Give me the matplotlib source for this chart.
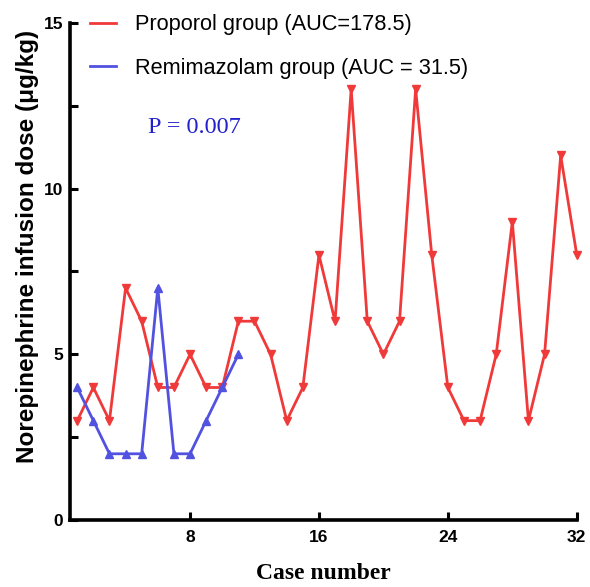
import matplotlib
matplotlib.use("Agg")
import matplotlib.pyplot as plt
from matplotlib.ticker import MultipleLocator

# values
propofol_case = list(range(1, 33))
propofol_dose = [3, 4, 3, 7, 6, 4, 4, 5, 4, 4, 6, 6, 5, 3, 4, 8,
                 6, 13, 6, 5, 6, 13, 8, 4, 3, 3, 5, 9, 3, 5, 11, 8]
remi_case = list(range(1, 12))
remi_dose = [4, 3, 2, 2, 2, 7, 2, 2, 3, 4, 5]

labels = ["Proporol group (AUC=178.5)", "Remimazolam group (AUC = 31.5)"]
x_ticks = [8, 16, 24, 32]
y_ticks = [0, 5, 10, 15]

red = "#f03a3a"
blue = "#5252e0"

fig = plt.figure(figsize=(5.9, 5.87), dpi=100)
ax = fig.add_axes([0.1186, 0.114, 0.859, 0.847])

ax.plot(propofol_case, propofol_dose, color=red, lw=2, marker="v", ms=5.5,
        label=labels[0], clip_on=False)
ax.plot(remi_case, remi_dose, color=blue, lw=2, marker="^", ms=5.5,
        label=labels[1], clip_on=False)

ax.set_xlim(0.55, 32)
ax.set_ylim(0, 15)
ax.set_xticks(x_ticks)
ax.set_yticks(y_ticks)
ax.yaxis.set_minor_locator(MultipleLocator(2.5))
ax.tick_params(which="both", direction="in", width=2.2, length=6,
               labelsize=12.5, pad=5)
ax.tick_params(axis="x", pad=7)
for lab in ax.get_xticklabels() + ax.get_yticklabels():
    lab.set_fontfamily("Liberation Sans")
    lab.set_fontweight("bold")

for s in ["top", "right"]:
    ax.spines[s].set_visible(False)
for s in ["left", "bottom"]:
    ax.spines[s].set_linewidth(2.6)

ax.set_ylabel("Norepinephrine infusion dose (μg/kg)", fontsize=17.5,
              fontweight="bold", family="Liberation Sans")
ax.yaxis.set_label_coords(-0.062, 0.551)
ax.set_xlabel("Case number", fontsize=17, fontweight="bold",
              family="Liberation Serif", labelpad=13)

leg = ax.legend(loc="upper left", bbox_to_anchor=(0.0, 1.057), frameon=False,
                handlelength=1.2, handletextpad=0.9, labelspacing=1.05,
                prop={"family": "Liberation Sans", "size": 15.7})
for h in leg.legend_handles:
    h.set_marker("")

ax.text(0.153, 0.79, "P = 0.007", transform=ax.transAxes, fontsize=17.5,
        va="center", family="Liberation Serif", color="#2222cc")

fig.savefig("out.png", dpi=100)
